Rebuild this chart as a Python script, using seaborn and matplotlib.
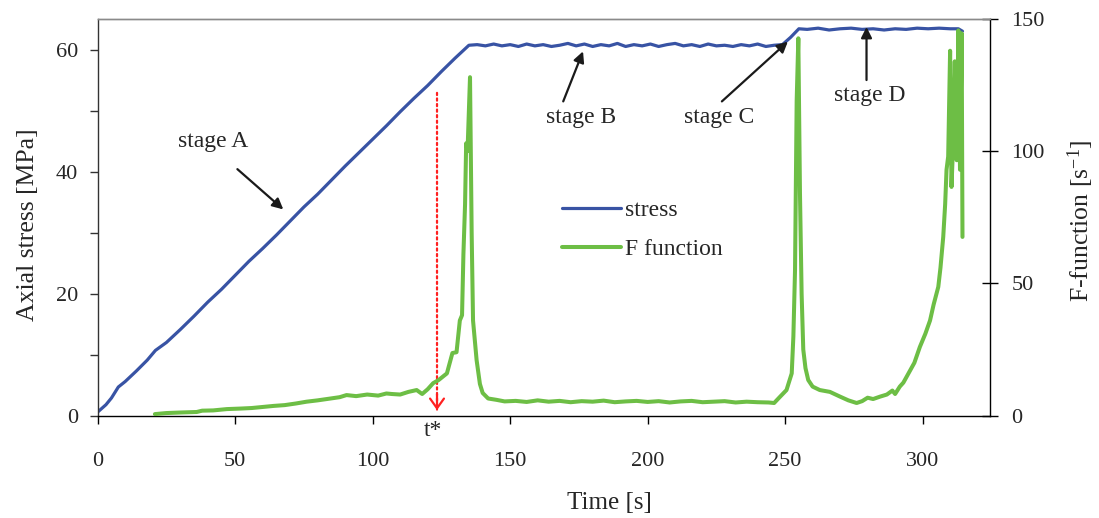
import matplotlib
matplotlib.use("Agg")
import matplotlib.pyplot as plt
import seaborn as sns
import numpy as np
import pandas as pd

# ---------------- data ----------------
stress_t = [0, 3, 5, 7.5, 10, 14, 18, 21, 25, 30, 35, 40, 45, 50, 55, 60, 65, 70, 75, 80,
            85, 90, 95, 100, 105, 110, 115, 120, 125, 130, 135,
            138, 141, 144, 147, 150, 153, 156, 159, 162, 165, 168, 171, 174, 177, 180,
            183, 186, 189, 192, 195, 198, 201, 204, 207, 210, 213, 216, 219, 222, 225,
            228, 231, 234, 237, 240, 243, 246, 249, 252, 255, 258, 262, 266, 270, 274,
            278, 282, 286, 290, 294, 298, 302, 306, 310, 313, 314.5]
stress_v = [0.6, 1.8, 2.9, 4.7, 5.6, 7.3, 9.1, 10.7, 12.0, 14.1, 16.3, 18.6, 20.7, 23.0, 25.3,
            27.4, 29.6, 31.9, 34.2, 36.3, 38.6, 40.9, 43.1, 45.3, 47.5, 49.8, 52.0, 54.1, 56.4,
            58.6, 60.7,
            60.8, 60.6, 60.9, 60.6, 60.8, 60.5, 60.9, 60.6, 60.8, 60.5, 60.7, 61.0, 60.6, 60.9,
            60.5, 60.8, 60.6, 61.0, 60.5, 60.8, 60.6, 60.9, 60.5, 60.8, 61.0, 60.6, 60.8, 60.5,
            60.9, 60.6, 60.7, 60.5, 60.8, 60.6, 60.9, 60.5, 60.7, 60.8, 62.0, 63.4, 63.3, 63.5,
            63.2, 63.4, 63.5, 63.3, 63.4, 63.2, 63.4, 63.3, 63.5, 63.4, 63.5, 63.4, 63.4, 63.0]

f_t = [20.8, 25, 30, 36, 38, 42, 47, 52, 56, 60, 64, 68, 72, 76, 80, 84, 88, 90.5, 94, 98,
       102, 105, 107, 110, 113, 116, 118, 120, 122, 124, 127, 129, 130.5, 131.7, 132.5, 133,
       133.6, 134, 134.5, 135.4, 136, 136.5, 137.8, 139, 140, 142, 145, 148, 152, 156, 160,
       164, 168, 172, 176, 180, 184, 188, 192, 196, 200, 204, 208, 212, 216, 220, 224, 228,
       232, 236, 240, 244, 246, 248, 250.5, 252.4, 253, 253.6, 254.2, 254.8, 255.4, 256,
       256.6, 257.4, 258.4, 260, 262.6, 266.3, 270, 273, 276, 278, 280, 282, 284.5, 287,
       289, 290, 291.7, 293, 295.4, 297, 299, 301, 302.7, 304, 305.7, 306.5, 307.5, 308.2,
       308.7, 309.3, 310, 310.5, 311, 311.7, 312.4, 313, 313.6, 314.2, 314.5]
f_v = [0.6, 1.0, 1.2, 1.4, 1.9, 2.0, 2.5, 2.7, 2.9, 3.3, 3.7, 4.0, 4.6, 5.3, 5.8, 6.4, 7.0,
       7.8, 7.4, 8.0, 7.6, 8.4, 8.2, 8.0, 9.0, 9.7, 8.2, 10.0, 12.3, 13.5, 16.0, 23.7, 24.0,
       36.0, 38.0, 61.0, 80.0, 103.0, 100.0, 128.0, 69.0, 36.0, 21.0, 12.0, 8.6, 6.5, 6.0,
       5.4, 5.6, 5.2, 5.8, 5.3, 5.6, 5.1, 5.5, 5.3, 5.7, 5.1, 5.4, 5.6, 5.2, 5.5, 5.0, 5.4,
       5.6, 5.1, 5.3, 5.5, 5.0, 5.3, 5.1, 5.0, 4.8, 7.0, 9.7, 16.0, 30.0, 55.0, 119.0, 142.7,
       84.0, 46.0, 25.0, 18.0, 13.5, 11.0, 9.7, 9.0, 7.2, 5.8, 4.8, 5.5, 6.8, 6.3, 7.2, 8.0,
       9.5, 8.2, 11.0, 12.5, 17.0, 20.0, 26.0, 31.0, 36.0, 42.0, 48.7, 56.0, 67.6, 80.0, 93.0,
       98.0, 138.0, 86.5, 100.0, 134.0, 96.6, 145.7, 93.0, 144.6, 67.6]

x_ticks = [0, 50, 100, 150, 200, 250, 300]
left_ticks = [0, 20, 40, 60]
right_ticks = [0, 50, 100, 150]

df_s = pd.DataFrame({"t": stress_t, "v": stress_v})
df_f = pd.DataFrame({"t": f_t, "v": f_v})

# ---------------- style ----------------
sns.set_style("ticks")
plt.rcParams["font.family"] = ["Liberation Serif", "DejaVu Serif"]
plt.rcParams["mathtext.fontset"] = "custom"
plt.rcParams["mathtext.rm"] = "Liberation Serif"

BLUE = "#3853A4"
GREEN = "#6DBE45"

fig = plt.figure(figsize=(10.99, 5.18), dpi=100)
ax = fig.add_axes([0.0889, 0.1975, 0.8119, 0.7658])
ax2 = ax.twinx()

sns.lineplot(data=df_s, x="t", y="v", ax=ax, color=BLUE, lw=2.3, sort=False,
             estimator=None, label="stress", legend=False)
sns.lineplot(data=df_f, x="t", y="v", ax=ax2, color=GREEN, lw=2.9, sort=False,
             estimator=None, label="F function", legend=False)

ax.set_xlim(0, 324.5)
ax.set_ylim(0, 65)
ax2.set_ylim(0, 150)

ax.set_xticks(x_ticks)
ax.set_yticks(left_ticks)
ax.set_yticks([10, 30, 50], minor=True)
ax2.set_yticks(right_ticks)

ax.tick_params(axis="x", direction="out", length=6, width=1, labelsize=16, pad=20, color="black")
ax.tick_params(axis="y", which="both", direction="out", length=6, width=1, labelsize=16, pad=8,
               color="#333333")
ax2.tick_params(axis="y", direction="inout", length=11, width=1, labelsize=16, pad=10,
                color="black")

ax.set_xlabel("Time [s]", fontsize=18)
ax.xaxis.set_label_coords(0.574, -0.193)
ax.set_ylabel("Axial stress [MPa]", fontsize=18.5)
ax.yaxis.set_label_coords(-0.066, 0.482)
ax2.set_ylabel(r"F-function [s$\mathregular{^{-1}}$]", fontsize=18.5)
ax2.yaxis.set_label_coords(1.085, 0.49)

for a in (ax, ax2):
    a.spines["top"].set_color("#8a8a8a")
ax.spines["left"].set_color("#333333")
ax.spines["bottom"].set_color("black")
ax.spines["right"].set_visible(False)
ax2.spines["left"].set_visible(False)
ax2.spines["bottom"].set_visible(False)
ax2.spines["right"].set_color("black")
for a in (ax, ax2):
    for s in a.spines.values():
        s.set_linewidth(1.0)

# legend
h1 = ax.get_lines()[0]
h2 = ax2.get_lines()[0]
ax2.legend([h1, h2], ["stress", "F function"], loc="center left",
           bbox_to_anchor=(0.496, 0.468), frameon=False, fontsize=17,
           handlelength=2.5, handletextpad=0.2, labelspacing=0.75)

# annotations
tfs = 17
arrow_kw = dict(arrowstyle="-|>", color="#1a1a1a", lw=1.6, mutation_scale=16, shrinkA=0, shrinkB=0)
ax.text(42, 45.0, "stage A", fontsize=tfs, ha="center", va="center")
ax.annotate("", xy=(67.5, 33.8), xytext=(50.8, 40.4), arrowprops=arrow_kw)
ax.text(175.7, 48.8, "stage B", fontsize=tfs, ha="center", va="center")
ax.annotate("", xy=(176.5, 59.7), xytext=(169.3, 51.5), arrowprops=arrow_kw)
ax.text(226, 48.8, "stage C", fontsize=tfs, ha="center", va="center")
ax.annotate("", xy=(251, 61.3), xytext=(227, 51.5), arrowprops=arrow_kw)
ax.text(280.9, 52.4, "stage D", fontsize=tfs, ha="center", va="center")
ax.annotate("", xy=(279.6, 63.7), xytext=(279.6, 55.0), arrowprops=arrow_kw)

# t* marker
ax.annotate("", xy=(123.4, 1.0), xytext=(123.4, 52.9),
            arrowprops=dict(arrowstyle="-", color="#ff2020", lw=1.6, linestyle=(0, (1, 1.5)),
                            shrinkA=0, shrinkB=0))
ax.annotate("", xy=(123.4, 0.9), xytext=(123.4, 3.5),
            arrowprops=dict(arrowstyle="->,head_length=0.7,head_width=0.5", color="#ff2020",
                            lw=1.6, shrinkA=0, shrinkB=0))
ax.text(122.0, -2.4, "t*", fontsize=tfs, ha="center", va="center", clip_on=False)

fig.savefig("out.png", dpi=100)
